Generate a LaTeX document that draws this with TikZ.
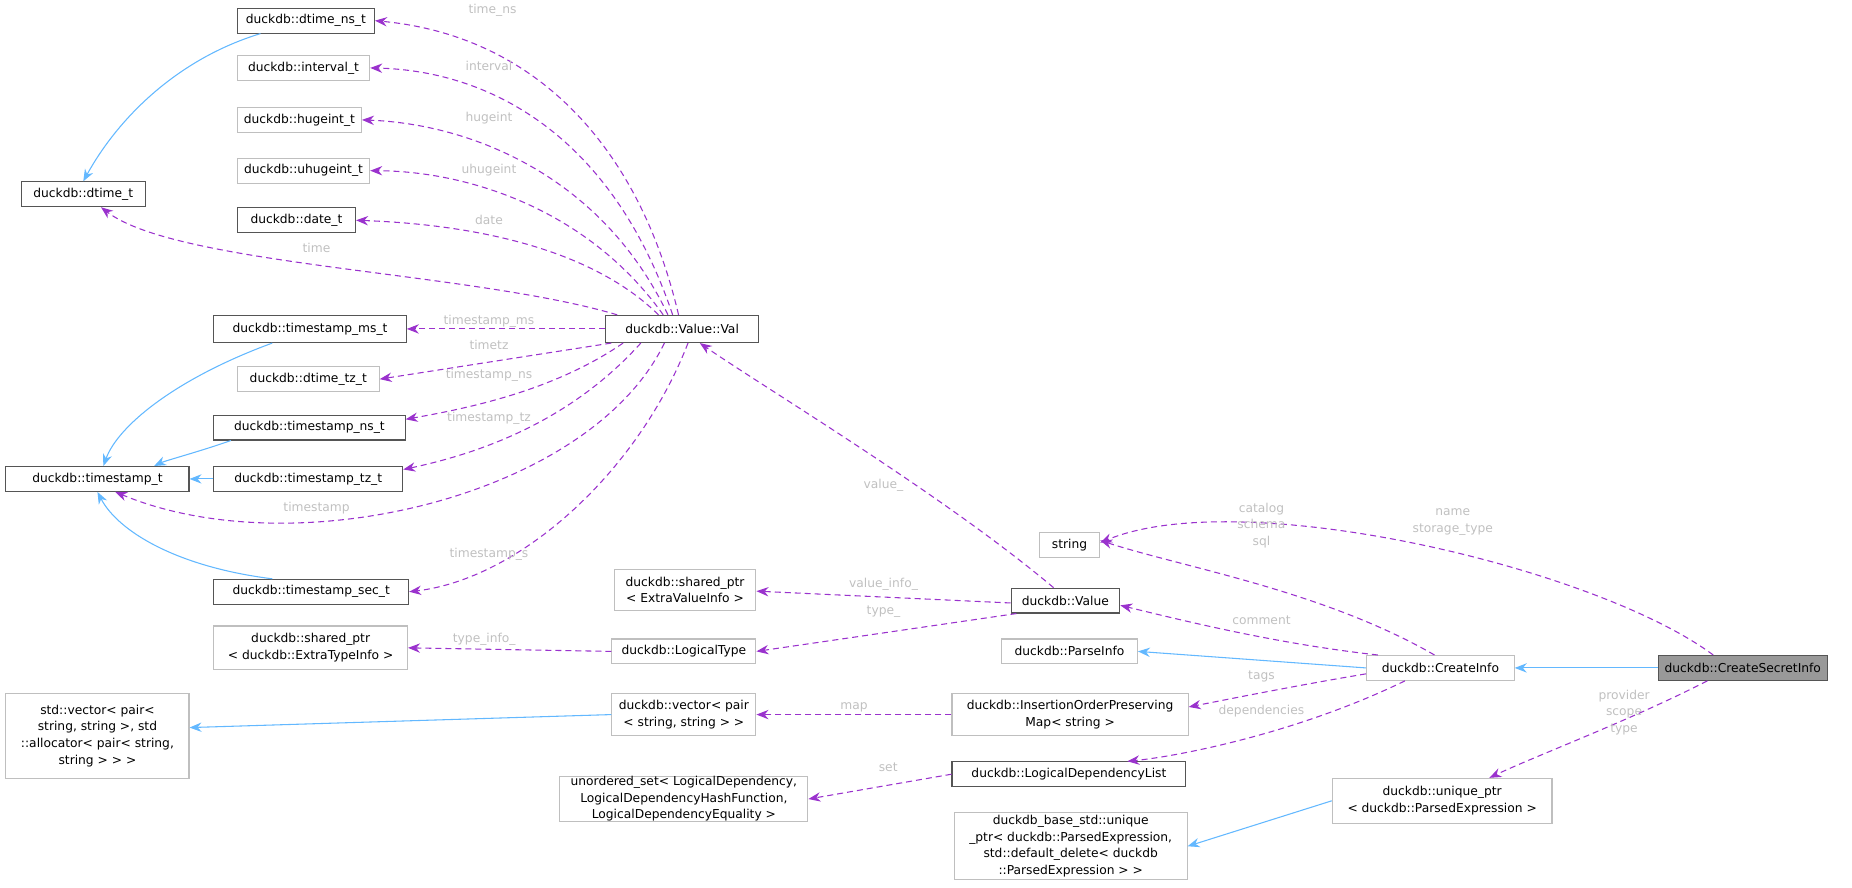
\documentclass[tikz,border=0pt]{standalone}
\usepackage{fontspec}
\setmainfont{DejaVu Sans}
\usetikzlibrary{arrows.meta,calc}
\definecolor{dk}{HTML}{555555}
\definecolor{lg}{HTML}{BFBFBF}
\definecolor{pu}{HTML}{9A32CD}
\definecolor{bl}{HTML}{63B8FF}
\definecolor{lb}{HTML}{C0C0C0}
\begin{document}
\begin{tikzpicture}[x=0.8858pt,y=-0.8858pt,
  font=\fontsize{9.2}{12.4}\selectfont, line width=0.8pt,
  W/.style={minimum width=#1*0.8858pt},
  H/.style={minimum height=#1*0.8858pt},
  base/.style={draw,inner sep=0pt,align=center,minimum height=21*0.8858pt,fill=white},
  dkb/.style={base,draw=dk},
  gyb/.style={base,draw=lg},
  use/.style={pu,dash pattern=on 4.5pt off 3pt,-{Stealth[length=9pt,width=7pt]}},
  inh/.style={bl,-{Stealth[length=9pt,width=7pt]}},
  lab/.style={text=lb,inner sep=1pt,align=center}]
\useasboundingbox (0,0) rectangle (1568,751);
% nodes
\node[dkb,W=116] (dtns) at (259,17.5) {duckdb::dtime\_ns\_t};
\node[gyb,W=112] (intv) at (257,57.5) {duckdb::interval\_t};
\node[gyb,W=105] (huge) at (253.5,101.5) {duckdb::hugeint\_t};
\node[gyb,W=112] (uhuge) at (257,144.5) {duckdb::uhugeint\_t};
\node[dkb,W=100] (date) at (251,186.5) {duckdb::date\_t};
\node[dkb,W=105] (dtime) at (70.5,164.5) {duckdb::dtime\_t};
\node[dkb,W=163,H=23] (tsms) at (262.5,278.5) {duckdb::timestamp\_ms\_t};
\node[gyb,W=120] (dttz) at (261,321) {duckdb::dtime\_tz\_t};
\node[dkb,W=162] (tsns) at (262,362) {duckdb::timestamp\_ns\_t};
\node[dkb,W=155] (ts) at (82.5,405.5) {duckdb::timestamp\_t};
\node[dkb,W=160] (tstz) at (261,405.5) {duckdb::timestamp\_tz\_t};
\node[dkb,W=165] (tssec) at (263.5,501) {duckdb::timestamp\_sec\_t};
\node[dkb,W=129,H=23] (val) at (577.5,278.5) {duckdb::Value::Val};
\node[gyb,W=120,H=35] (spev) at (580,499.5) {duckdb::shared\_ptr\\{}< ExtraValueInfo >};
\node[gyb,W=164,H=37] (spet) at (263,548.5) {duckdb::shared\_ptr\\{}< duckdb::ExtraTypeInfo >};
\node[gyb,W=122] (lt) at (579,551.5) {duckdb::LogicalType};
\node[gyb,W=155,H=72] (stdv) at (82.5,623) {std::vector< pair<\\string, string >, std\\::allocator< pair< string,\\string > > >};
\node[gyb,W=122,H=36] (dv) at (579,605) {duckdb::vector< pair\\{}< string, string > >};
\node[gyb,W=210,H=35] (uset) at (579,676.5) {unordered\_set< LogicalDependency,\\LogicalDependencyHashFunction,\\LogicalDependencyEquality >};
\node[dkb,W=92] (value) at (902,508.5) {duckdb::Value};
\node[gyb,W=51] (string) at (905.5,461.5) {string};
\node[gyb,W=115] (parse) at (905.5,551.5) {duckdb::ParseInfo};
\node[gyb,W=200,H=36] (iopm) at (906,605) {duckdb::InsertionOrderPreserving\\Map< string >};
\node[dkb,W=198] (ldl) at (905,655.5) {duckdb::LogicalDependencyList};
\node[gyb,W=197,H=57] (dbs) at (906.5,716.5) {duckdb\_base\_std::unique\\\_ptr< duckdb::ParsedExpression,\\std::default\_delete< duckdb\\::ParsedExpression > >};
\node[gyb,W=125] (ci) at (1219.5,565.5) {duckdb::CreateInfo};
\node[gyb,W=186,H=38] (up) at (1221,678) {duckdb::unique\_ptr\\{}< duckdb::ParsedExpression >};
\node[dkb,W=143,fill={rgb,255:red,153;green,153;blue,153}] (csi) at (1475.5,565.5) {duckdb::CreateSecretInfo};
% inheritance
\draw[inh] (dtns.south west) ++(20,0) .. controls (150,50) and (100,100) .. (dtime.north);
\draw[inh] ($(tsms.south west)+(50,0)$) .. controls (150,320) and (100,360) .. ($(ts.north)+(5,0)$);
\draw[inh] ($(tsns.south west)+(15,0)$) .. controls (170,382) and (140,390) .. ($(ts.north east)+(-30,0)$);
\draw[inh] (tstz.west) -- (ts.east);
\draw[inh] ($(tssec.north west)+(50,0)$) .. controls (150,480) and (100,450) .. ($(ts.south)+(0,0)$);
\draw[inh] (dv.west) -- ($(stdv.east)+(0,-7)$);
\draw[inh] (ci.west) -- (parse.east);
\draw[inh] (csi.west) -- (ci.east);
\draw[inh] (up.west) -- (dbs.east);
% usage from Val
\draw[use] ($(val.north)+(-3,0)$) .. controls (540,120) and (450,30) .. (dtns.east);
\draw[use] ($(val.north)+(-8,0)$) .. controls (520,120) and (420,60) .. (intv.east);
\draw[use] ($(val.north)+(-12,0)$) .. controls (510,150) and (400,105) .. (huge.east);
\draw[use] ($(val.north)+(-16,0)$) .. controls (500,180) and (400,145) .. (uhuge.east);
\draw[use] ($(val.north)+(-20,0)$) .. controls (500,210) and (400,190) .. (date.east);
\draw[use] ($(val.north west)+(10,0)$) .. controls (400,230) and (150,225) .. ($(dtime.south)+(15,0)$);
\draw[use] (val.west) -- (tsms.east);
\draw[use] ($(val.south west)+(5,0)$) -- (dttz.east);
\draw[use] ($(val.south west)+(15,0)$) .. controls (470,330) and (400,345) .. ($(tsns.east)+(0,-7)$);
\draw[use] ($(val.south west)+(30,0)$) .. controls (480,360) and (400,385) .. ($(tstz.east)+(0,-8)$);
\draw[use] ($(val.south)+(-15,0)$) .. controls (500,420) and (250,480) .. ($(ts.south)+(15,0)$);
\draw[use] ($(val.south)+(5,0)$) .. controls (540,400) and (440,490) .. (tssec.east);
% others
\draw[use] ($(value.north)+(-10,0)$) .. controls (800,420) and (650,330) .. ($(val.south)+(15,0)$);
\draw[use] ($(value.west)+(0,2)$) -- ($(spev.east)+(0,1)$);
\draw[use] ($(value.south west)+(5,0)$) -- (lt.east);
\draw[use] (lt.west) -- (spet.east);
\draw[use] (iopm.west) -- (dv.east);
\draw[use] (ldl.west) -- (uset.east);
\draw[use] ($(ci.north)+(-5,0)$) .. controls (1120,500) and (1000,480) .. ($(string.east)+(0,-4)$);
\draw[use] ($(ci.north west)+(10,0)$) .. controls (1080,545) and (1000,525) .. ($(value.east)+(0,4)$);
\draw[use] ($(ci.west)+(0,5)$) .. controls (1100,580) and (1050,590) .. ($(iopm.north east)+(0,12)$);
\draw[use] ($(ci.south)+(-30,0)$) .. controls (1100,620) and (1000,640) .. ($(ldl.north east)+(-50,0)$);
\draw[use] ($(csi.north)+(-25,0)$) .. controls (1350,480) and (1050,410) .. ($(string.east)+(0,-2)$);
\draw[use] ($(csi.south)+(-30,0)$) .. controls (1380,610) and (1300,640) .. ($(up.north)+(40,0)$);
% labels
\node[lab] (l1) at (417,9) {time\_ns};
\node[lab] (l2) at (414,56) {interval};
\node[lab] (l3) at (414,100) {hugeint};
\node[lab] (l4) at (414,144) {uhugeint};
\node[lab] (l5) at (414,186) {date};
\node[lab] (l6) at (268,210) {time};
\node[lab] (l7) at (414,272) {timestamp\_ms};
\node[lab] (l8) at (414,292) {timetz};
\node[lab] (l9) at (414,318) {timestamp\_ns};
\node[lab] (l10) at (414,354) {timestamp\_tz};
\node[lab] (l11) at (268,430) {timestamp};
\node[lab] (l12) at (414,469) {timestamp\_s};
\node[lab] (l13) at (748,411) {value\_};
\node[lab] (l14) at (748,495) {value\_info\_};
\node[lab] (l15) at (748,518) {type\_};
\node[lab] (l16) at (410,541) {type\_info\_};
\node[lab] (l17) at (723,599) {map};
\node[lab] (l18) at (752,650) {set};
\node[lab] (l19) at (1068,445) {catalog\\schema\\sql};
\node[lab] (l20) at (1068,525) {comment};
\node[lab] (l21) at (1068,573) {tags};
\node[lab] (l22) at (1068,602) {dependencies};
\node[lab] (l23) at (1230,442) {name\\storage\_type};
\node[lab] (l24) at (1375,603) {provider\\scope\\type};
\end{tikzpicture}
\end{document}
